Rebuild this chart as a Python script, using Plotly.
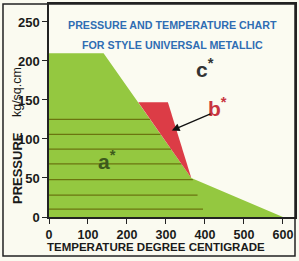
import plotly.graph_objects as go

# ---- data ----
green_x = [0, 0, 140, 365, 600, 0]
green_y = [0, 210, 210, 50, 0, 0]
red_x = [229, 305, 365, 229]
red_y = [147, 147, 50, 147]
line_y = [125, 106, 87, 68, 48, 28, 10]
line_x_end = [259, 286, 313, 340, 369, 381, 395]
x_ticks = [0, 100, 200, 300, 400, 500, 600]
y_ticks = [0, 50, 100, 150, 200, 250]
title_lines = ["PRESSURE AND TEMPERATURE CHART", "FOR STYLE UNIVERSAL METALLIC"]
region_labels = ["a", "b", "c"]
region_x = [149, 433, 400]
region_y = [73, 141, 191]
region_colors = ["#3d5a1c", "#c8343f", "#333333"]

FONT = "Liberation Sans, Arial, sans-serif"

fig = go.Figure()
fig.add_trace(go.Scatter(x=green_x, y=green_y, fill="toself", fillcolor="#94c840",
                         mode="lines", line=dict(width=0), hoverinfo="skip"))
lx, ly = [], []
for yv, xe in zip(line_y, line_x_end):
    lx += [0, xe, None]
    ly += [yv, yv, None]
fig.add_trace(go.Scatter(x=lx, y=ly, mode="lines",
                         line=dict(color="#6b7510", width=1.3), hoverinfo="skip"))
fig.add_trace(go.Scatter(x=red_x, y=red_y, fill="toself", fillcolor="#dc3c46",
                         mode="lines", line=dict(width=0), hoverinfo="skip"))

for lab, xv, yv, col in zip(region_labels, region_x, region_y, region_colors):
    fig.add_annotation(x=xv, y=yv, xref="x", yref="y", showarrow=False,
                       text=f"<b>{lab}<sup>*</sup></b>",
                       font=dict(family=FONT, size=21, color=col))

# arrow from b* label to red region
fig.add_annotation(x=315, y=111, ax=418, ay=133, xref="x", yref="y", axref="x", ayref="y",
                   text="", showarrow=True, arrowhead=2, arrowsize=1.2, arrowwidth=1.3,
                   arrowcolor="#111111")

for i, t in enumerate(title_lines):
    fig.add_annotation(x=0.5, y=[0.901, 0.808][i], xref="paper", yref="paper", showarrow=False,
                       xanchor="center", yanchor="middle",
                       text=f"<b>{t}</b>", font=dict(family=FONT, size=10.7, color="#2f6db3"))

fig.add_annotation(x=0.435, y=-0.142, xref="paper", yref="paper", showarrow=False,
                   xanchor="center", yanchor="middle",
                   text="<b>TEMPERATURE DEGREE CENTIGRADE</b>",
                   font=dict(family=FONT, size=11.5, color="#1a1a1a"))
fig.add_annotation(x=-0.13, y=0.23, xref="paper", yref="paper", showarrow=False, textangle=-90,
                   xanchor="center", yanchor="middle",
                   text="<b>PRESSURE</b>", font=dict(family=FONT, size=13, color="#1a1a1a"))
fig.add_annotation(x=-0.13, y=0.596, xref="paper", yref="paper", showarrow=False, textangle=-90,
                   xanchor="center", yanchor="middle",
                   text="kg/sq.cm.", font=dict(family=FONT, size=12.5, color="#1a1a1a"))

# outer frame
fig.add_shape(type="rect", xref="paper", yref="paper", x0=-0.187, x1=1.0, y0=-0.183, y1=1.0,
              line=dict(color="#222222", width=1.5), layer="above")

fig.update_xaxes(range=[0, 631], tickvals=x_ticks, ticks="outside", ticklen=5, tickwidth=1,
                 tickcolor="#222", showgrid=False, zeroline=False, showline=True, linecolor="#222",
                 linewidth=1.5, mirror=True, automargin=False,
                 tickfont=dict(family=FONT, size=12.5, color="#1a1a1a", weight="bold"))
fig.update_yaxes(range=[0, 273], tickvals=y_ticks, ticks="outside", ticklen=5, tickwidth=1,
                 tickcolor="#222", showgrid=False, zeroline=False, showline=True, linecolor="#222",
                 linewidth=1.5, mirror=True, automargin=False,
                 tickfont=dict(family=FONT, size=13, color="#1a1a1a", weight="bold"))

fig.update_layout(width=299, height=261, margin=dict(l=49, r=4, t=4, b=44),
                  paper_bgcolor="#fafaf0", plot_bgcolor="#fbfbf1", showlegend=False)

fig.write_html("out.html")
